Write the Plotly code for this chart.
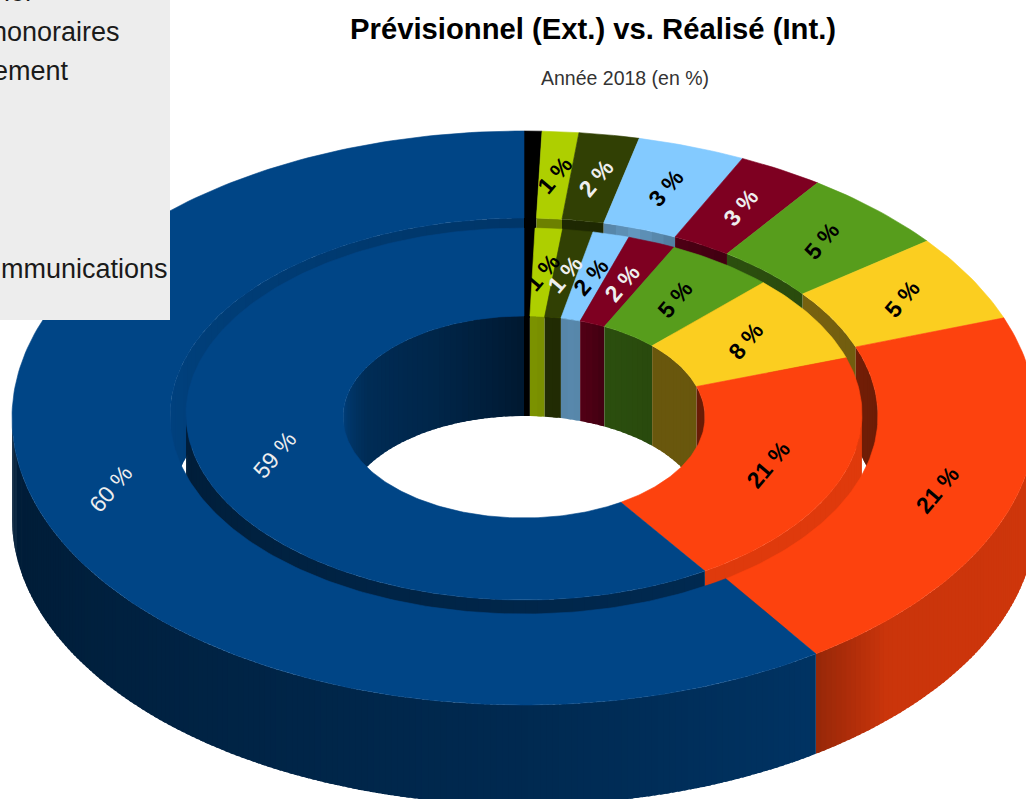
import math
import plotly.graph_objects as go

# ---- data ----
slice_names = ["Noir", "Citron", "Olive", "Bleu clair", "Bordeaux", "Vert", "Jaune", "Rouge", "Bleu"]
outer_values = [0.56, 1.15, 1.9, 3.4, 2.7, 4.7, 4.9, 21.0, 59.6]
inner_values = [0.52, 1.3, 1.45, 1.75, 2.3, 5.2, 7.6, 20.9, 59.0]
outer_labels = ["", "1 %", "2 %", "3 %", "3 %", "5 %", "5 %", "21 %", "60 %"]
inner_labels = ["", "1 %", "1 %", "2 %", "2 %", "5 %", "8 %", "21 %", "59 %"]
slice_colors = ["#000000", "#aecf00", "#314004", "#83caff", "#7e0021", "#579d1c", "#fbce20", "#fd420e", "#004586"]
label_colors = ["#000000", "#000000", "#eeeeee", "#000000", "#eeeeee", "#000000", "#000000", "#000000", "#eeeeee"]
title_text = "Prévisionnel (Ext.) vs. Réalisé (Int.)"
subtitle_text = "Année 2018 (en %)"
legend_fragments = ["ier", "honoraires", "ement", "mmunications"]

# ---- projection of the 3D ring onto the page ----
CX = 524
DEPTH = 100
OUT_R = (512, 287, 418)   # rx, ry, cy
OUT_H = (354, 198, 416)
IN_R = (338, 186, 414)
IN_H = (181, 101, 417)


def pt(ell, theta, dy=0.0):
    rx, ry, cy = ell
    t = math.radians(theta)
    return CX + rx * math.sin(t), cy - ry * math.cos(t) + dy


def bounds(values):
    total = sum(values)
    out, c = [], 0.0
    for v in values:
        out.append((c / total * 360, (c + v) / total * 360))
        c += v
    return out


def shade(hex_color, k):
    r, g, b = int(hex_color[1:3], 16), int(hex_color[3:5], 16), int(hex_color[5:7], 16)
    return f"rgb({round(r * k)},{round(g * k)},{round(b * k)})"


def lerp(a, b, t):
    return a + (b - a) * t


def piecewise(stops, t):
    for (t0, k0), (t1, k1) in zip(stops, stops[1:]):
        if t <= t1:
            return lerp(k0, k1, (t - t0) / (t1 - t0))
    return stops[-1][1]


fig = go.Figure()


def poly(xs, ys, color, width=0.6):
    fig.add_trace(go.Scatter(x=xs + xs[:1], y=ys + ys[:1], mode="lines", fill="toself",
                             fillcolor=color, line=dict(color=color, width=width),
                             hoverinfo="skip", showlegend=False))


def arc(ell, a, b, dy=0.0):
    n = max(2, int(abs(b - a) / 1.0) + 1)
    pts = [pt(ell, lerp(a, b, i / n), dy) for i in range(n + 1)]
    return [p[0] for p in pts], [p[1] for p in pts]


def face(ell_out, ell_in, a, b, color):
    x1, y1 = arc(ell_out, a, b)
    x2, y2 = arc(ell_in, b, a)
    poly(x1 + x2, y1 + y2, color)


def wall(ell, a, b, color, kfun, step=2.0):
    """Side wall, built from thin strips so the shading varies with the angle."""
    if b <= a:
        return
    n = max(1, int((b - a) / step))
    # paint from the start to the end, each strip running on under the next one
    for i in range(n):
        t0, t1 = lerp(a, b, i / n), lerp(a, b, min(n, i + 1.6) / n)
        k = kfun(lerp(a, b, (i + 0.5) / n))
        x1, y1 = arc(ell, t0, t1)
        x2, y2 = arc(ell, t1, t0, DEPTH)
        poly(x1 + x2, y1 + y2, shade(color, k), width=0)


K_BACK_RIGHT_OUT = [(0, 0.62), (12, 0.62), (18, 0.75), (25, 0.62), (36, 0.5), (90, 0.42)]
K_BACK_RIGHT_IN = [(0, 0.72), (12, 0.66), (16, 0.68), (22, 0.6), (27, 0.5), (44, 0.47), (46, 0.42), (90, 0.42)]
K_BACK_LEFT_OUT = [(270, 0.95), (360, 0.78)]
K_BACK_LEFT_IN = [(270, 1.0), (282, 0.82), (300, 0.64), (330, 0.55), (352, 0.42), (360, 0.36)]
K_FRONT_OUT = [(90, 0.82), (135, 0.8), (145.0, 0.6), (145.01, 0.74), (180, 0.6), (250, 0.43), (270, 0.42)]
K_FRONT_IN = [(90, 0.88), (147.6, 0.88), (147.61, 0.6), (270, 0.42)]


def back_walls(ell, bnds, colors, right, left):
    for (a, b), c in zip(bnds, colors):
        wall(ell, a, min(b, 90), c, lambda t: piecewise(right, t))
        wall(ell, max(a, 270), b, c, lambda t: piecewise(left, t))


def front_walls(ell, bnds, colors, stops, step=2.0):
    for (a, b), c in zip(bnds, colors):
        wall(ell, max(a, 90), min(b, 270), c, lambda t: piecewise(stops, t), step)


out_b = bounds(outer_values)
in_b = bounds(inner_values)

# painter's order, back to front
back_walls(OUT_H, out_b, slice_colors, K_BACK_RIGHT_OUT, K_BACK_LEFT_OUT)
back_walls(IN_H, in_b, slice_colors, K_BACK_RIGHT_IN, K_BACK_LEFT_IN)
front_walls(IN_R, in_b, slice_colors, K_FRONT_IN)
for (a, b), c in zip(in_b, slice_colors):
    face(IN_R, IN_H, a, b, c)
front_walls(OUT_R, out_b, slice_colors, K_FRONT_OUT, step=0.7)
for (a, b), c in zip(out_b, slice_colors):
    face(OUT_R, OUT_H, a, b, c)

annotations = []


def ring_labels(ell_a, ell_b, bnds, labels, size):
    mid = tuple((p + q) / 2 for p, q in zip(ell_a, ell_b))
    for (a, b), txt, col in zip(bnds, labels, label_colors):
        if not txt:
            continue
        x, y = pt(mid, (a + b) / 2)
        shown = txt if col == "#eeeeee" and b == 360 else "<b>" + txt + "</b>"
        annotations.append(dict(x=x, y=y, xref="x", yref="y", text=shown, showarrow=False, textangle=-50,
                                font=dict(family="Liberation Sans", size=size, color=col)))


ring_labels(OUT_R, OUT_H, out_b, outer_labels, 23)
ring_labels(IN_R, IN_H, in_b, inner_labels, 23)

annotations.append(dict(x=593 / 1026, y=1 - 29 / 799, xref="paper", yref="paper",
                        text="<b>" + title_text + "</b>", showarrow=False,
                        font=dict(family="Liberation Sans", size=29.25, color="#000000"),
                        xanchor="center", yanchor="middle"))
annotations.append(dict(x=624.5 / 1026, y=1 - 78 / 799, xref="paper", yref="paper", text=subtitle_text, showarrow=False,
                        font=dict(family="Liberation Sans", size=19.5, color="#333333"),
                        xanchor="center", yanchor="middle"))

for txt, right, ymid in zip(legend_fragments, [36, 122, 71, 170], [-8, 32, 71, 269]):
    annotations.append(dict(x=right / 1026, y=1 - ymid / 799, xref="paper", yref="paper", text=txt, showarrow=False,
                            xanchor="right", yanchor="middle",
                            font=dict(family="Liberation Sans", size=27, color="#1a1a1a")))

fig.update_layout(
    width=1026, height=799, margin=dict(l=0, r=0, t=0, b=0),
    paper_bgcolor="#ffffff", plot_bgcolor="#ffffff", showlegend=False,
    xaxis=dict(range=[0, 1026], visible=False, fixedrange=True),
    yaxis=dict(range=[799, 0], visible=False, fixedrange=True),
    shapes=[dict(type="rect", xref="paper", yref="paper", x0=0, x1=170 / 1026, y0=1 - 320 / 799, y1=1,
                 fillcolor="#ededed", line=dict(width=0), layer="above")],
    annotations=annotations,
)

fig.write_html("out.html", config={"displayModeBar": False},
               post_script="document.body.style.margin='0';document.body.style.overflow='hidden';")
